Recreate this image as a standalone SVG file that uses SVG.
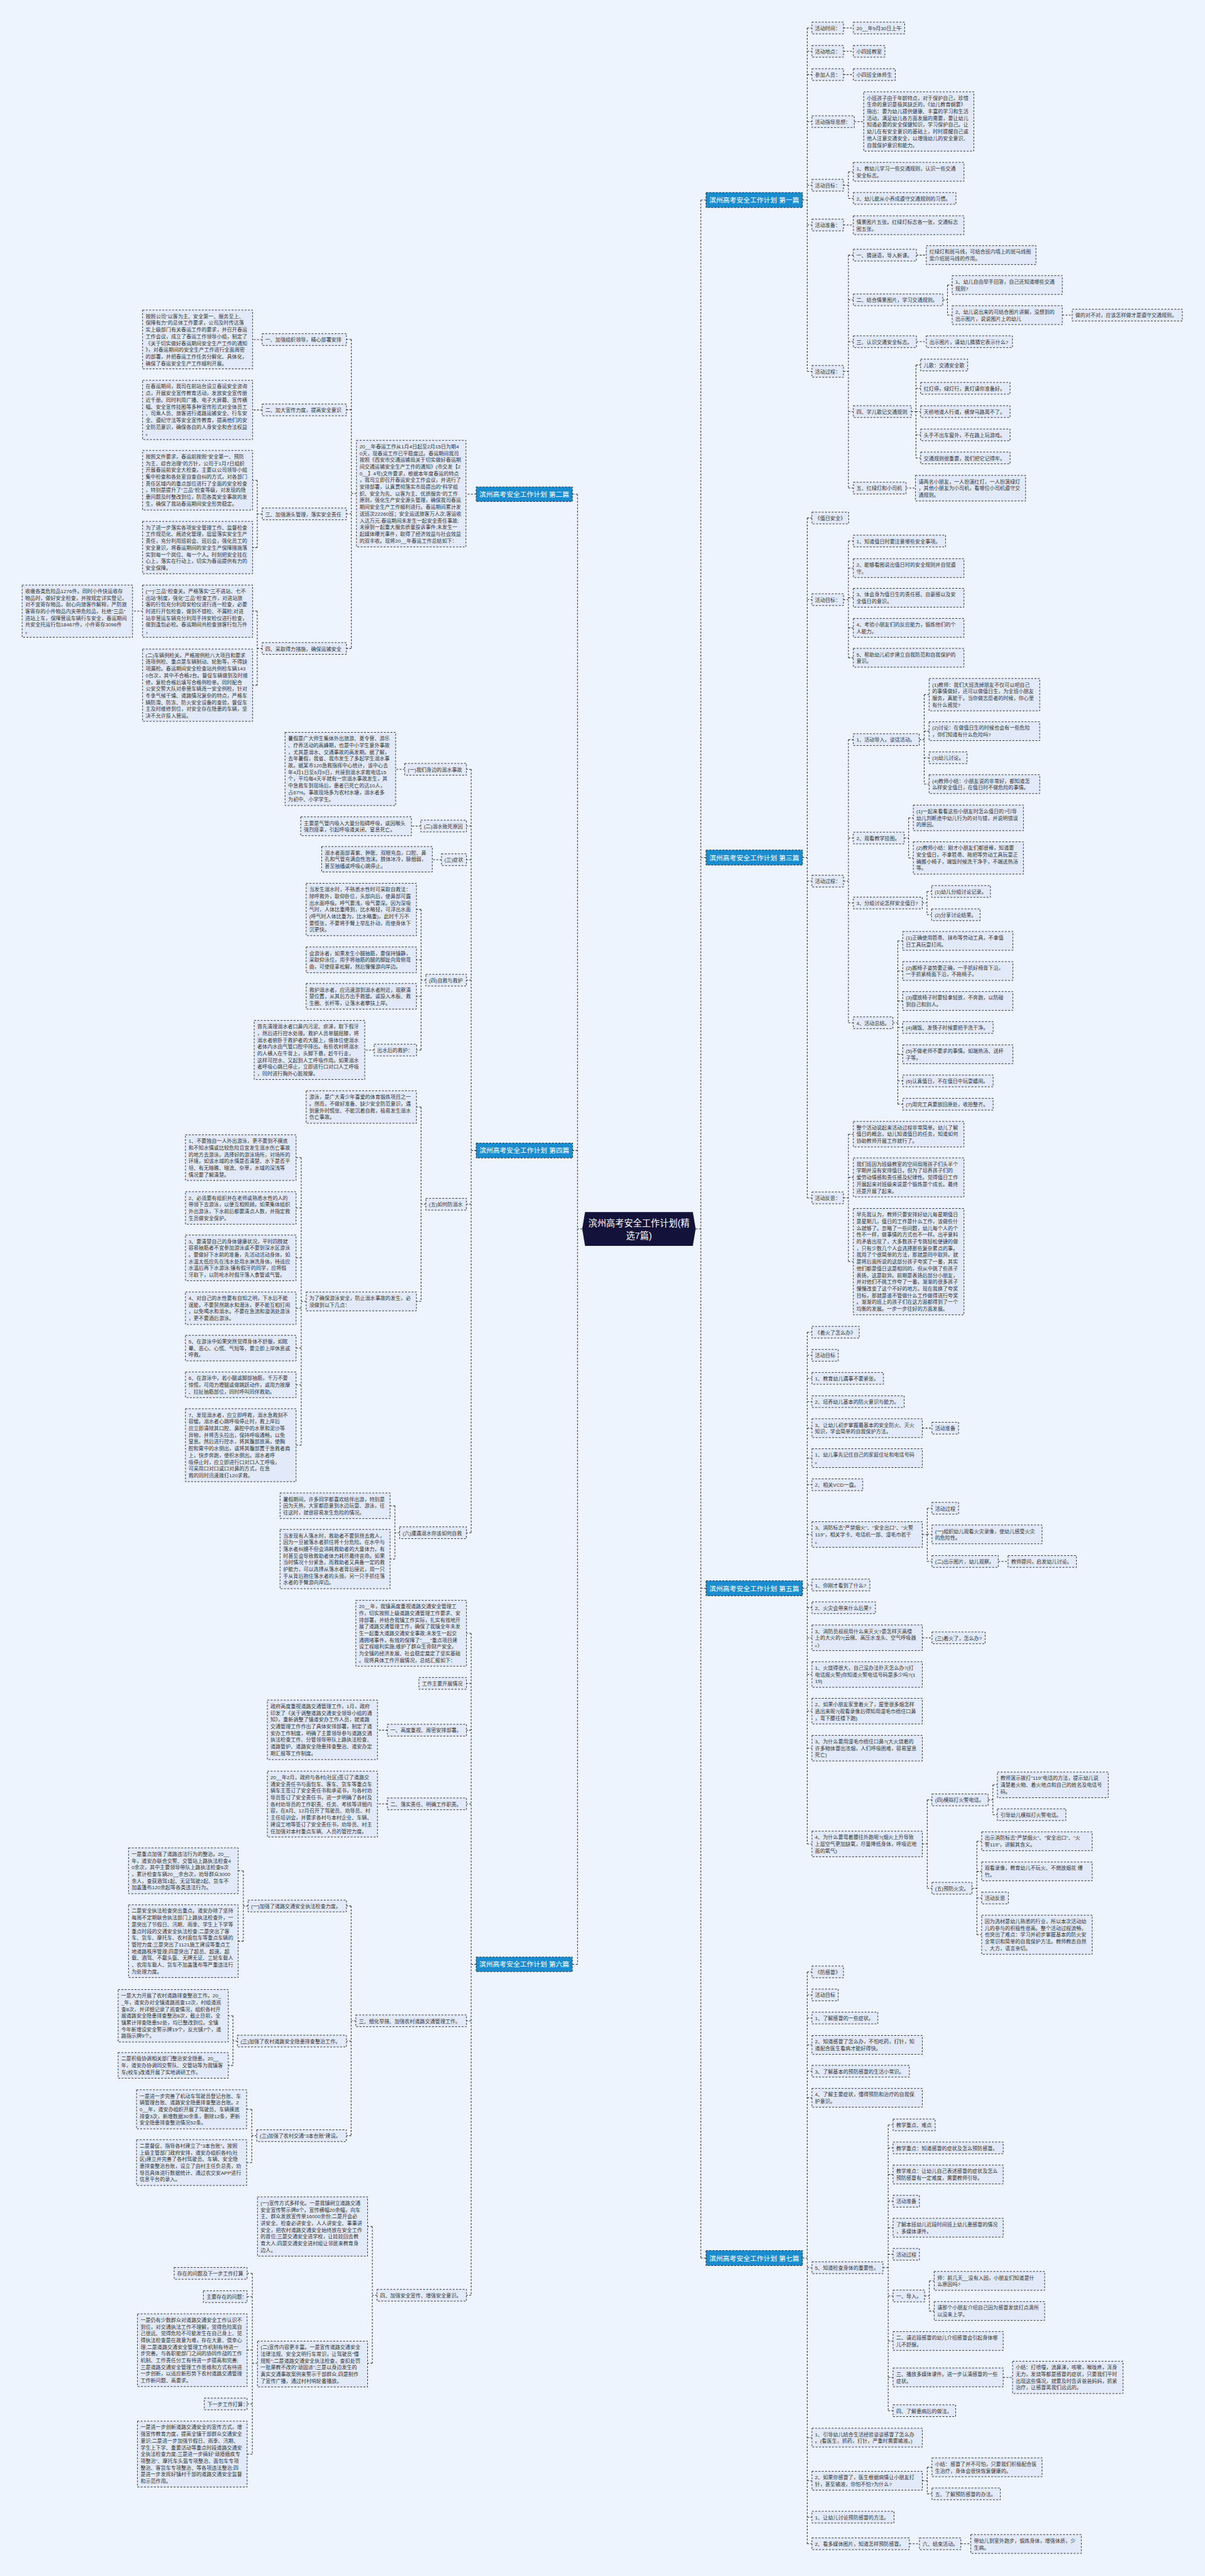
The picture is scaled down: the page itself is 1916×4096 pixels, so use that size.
<svg xmlns="http://www.w3.org/2000/svg" width="1916" height="4096" viewBox="0 0 1916 4096">
<style>
.n rect{fill:#e2eafa;stroke:#2e2e2e;stroke-width:1.3;stroke-dasharray:4 3}
.n text{font-family:"Liberation Sans","Noto Sans CJK SC",sans-serif;font-size:10.8px;fill:#333}
.t rect{fill:#1a8dd0;stroke:#1e2a3a;stroke-width:1.3;stroke-dasharray:4 3}
.t text{font-family:"Liberation Sans","Noto Sans CJK SC",sans-serif;font-size:14.4px;fill:#fff;text-anchor:middle}
.e path{fill:none;stroke:#2e2e2e;stroke-width:1.4;stroke-dasharray:4 3}
</style>
<rect x="0" y="0" width="1916" height="4096" fill="#eef4fe"/>
<g transform="scale(0.7484)">
<g id="edges" class="e">
<path d="M1478,2611 H1489 M1489,425 V4797.5 M1489,425 H1500 M1489,1822 H1500 M1489,3374.5 H1500 M1489,4797.5 H1500"/>
<path d="M1237,2611 H1227 M1227,1050 V4173.5 M1227,1050 H1216 M1227,2444.4 H1216 M1227,4173.5 H1216"/>
<path d="M1705,425 H1715 M1715,59.5 V789 M1715,59.5 H1725 M1715,109 H1725 M1715,158.5 H1725 M1715,258.5 H1725 M1715,393.5 H1725 M1715,478 H1725 M1715,789 H1725"/>
<path d="M1792,59.5 H1813 M1792,109 H1813 M1792,158.5 H1813 M1815,258.5 H1835 M1792,478 H1813"/>
<path d="M1792,393.5 H1802.5 M1802.5,365 V421.5 M1802.5,365 H1813 M1802.5,421.5 H1813"/>
<path d="M1792,789 H1802.5 M1802.5,542 V1037 M1802.5,542 H1813 M1802.5,637 H1813 M1802.5,726 H1813 M1802.5,874.5 H1813 M1802.5,1037 H1813"/>
<path d="M1947,542 H1968 M1947,726 H1968 M1925,1037 H1945 M2257,669.5 H2278"/>
<path d="M2003,637 H2013 M2013,605.5 V669.5 M2013,605.5 H2023 M2013,669.5 H2023"/>
<path d="M1936,874.5 H1946 M1946,775.5 V973 M1946,775.5 H1956 M1946,825 H1956 M1946,874.5 H1956 M1946,924 H1956 M1946,973 H1956"/>
<path d="M1705,1822 H1715 M1715,1100.5 V2545 M1715,1100.5 H1725 M1715,1274 H1725 M1715,1872 H1725 M1715,2545 H1725"/>
<path d="M1792,1274 H1802.5 M1802.5,1149.5 V1397.5 M1802.5,1149.5 H1813 M1802.5,1207 H1813 M1802.5,1270 H1813 M1802.5,1334 H1813 M1802.5,1397.5 H1813"/>
<path d="M1792,1872 H1802.5 M1802.5,1571.5 V2173 M1802.5,1571.5 H1813 M1802.5,1780.5 H1813 M1802.5,1918.5 H1813 M1802.5,2173 H1813"/>
<path d="M1953,1571.5 H1963.5 M1963.5,1475.8 V1666 M1963.5,1475.8 H1974 M1963.5,1553.5 H1974 M1963.5,1610 H1974 M1963.5,1666 H1974"/>
<path d="M1921,1780.5 H1930.5 M1930.5,1737.7 V1822.8 M1930.5,1737.7 H1940.4 M1930.5,1822.8 H1940.4"/>
<path d="M1959.5,1918.5 H1969.5 M1969.5,1894 V1943.5 M1969.5,1894 H1979.3 M1969.5,1943.5 H1979.3"/>
<path d="M1897,2173 H1907.5 M1907.5,1999 V2346 M1907.5,1999 H1918 M1907.5,2063 H1918 M1907.5,2126.7 H1918 M1907.5,2183 H1918 M1907.5,2240 H1918 M1907.5,2296.5 H1918 M1907.5,2346 H1918"/>
<path d="M1792,2545 H1802.5 M1802.5,2409.7 V2680.5 M1802.5,2409.7 H1813 M1802.5,2501.5 H1813 M1802.5,2680.5 H1813"/>
<path d="M1705,3374.5 H1715 M1715,2830.5 V3917.7 M1715,2830.5 H1725 M1715,2879.5 H1725 M1715,2928.5 H1725 M1715,2978 H1725 M1715,3034.3 H1725 M1715,3098 H1725 M1715,3154.5 H1725 M1715,3260.2 H1725 M1715,3367.5 H1725 M1715,3415.8 H1725 M1715,3479.7 H1725 M1715,3557.7 H1725 M1715,3635.5 H1725 M1715,3714.2 H1725 M1715,3917.7 H1725"/>
<path d="M1959.5,3034.3 H1980 M1959.5,3479.7 H1980 M2121,3317.5 H2141.7"/>
<path d="M1959.5,3260.2 H1970 M1970,3204.5 V3317.5 M1970,3204.5 H1980 M1970,3260 H1980 M1970,3317.5 H1980"/>
<path d="M1959.5,3917.7 H1970 M1970,3824 V4011.8 M1970,3824 H1980 M1970,4011.8 H1980"/>
<path d="M2099.4,3824 H2109.5 M2109.5,3792 V3855.5 M2109.5,3792 H2119 M2109.5,3855.5 H2119"/>
<path d="M2065,4011.8 H2075.5 M2075.5,3912 V4110.5 M2075.5,3912 H2085.7 M2075.5,3976 H2085.7 M2075.5,4032.5 H2085.7 M2075.5,4110.5 H2085.7"/>
<path d="M1705,4797.5 H1715 M1715,4189.5 V5404.5 M1715,4189.5 H1725 M1715,4238.5 H1725 M1715,4287.5 H1725 M1715,4344.6 H1725 M1715,4400.5 H1725 M1715,4457 H1725 M1715,4818 H1725 M1715,5179 H1725 M1715,5270.6 H1725 M1715,5348 H1725 M1715,5404.5 H1725"/>
<path d="M1876,4818 H1887 M1887,4514.5 V5121.8 M1887,4514.5 H1897.4 M1887,4563.5 H1897.4 M1887,4620 H1897.4 M1887,4676.7 H1897.4 M1887,4733 H1897.4 M1887,4789.5 H1897.4 M1887,4878 H1897.4 M1887,4973.7 H1897.4 M1887,5051 H1897.4 M1887,5121.8 H1897.4"/>
<path d="M1964.3,4878 H1974.5 M1974.5,4846 V4910 M1974.5,4846 H1984.7 M1974.5,4910 H1984.7 M2131.4,5051 H2151.3"/>
<path d="M1959.5,5270.6 H1970 M1970,5242 V5298.5 M1970,5242 H1980 M1970,5298.5 H1980 M1932.2,5404.5 H1953.4 M2041.4,5404.5 H2062.5"/>
<path d="M1011.6,1050 H990 M757.3,1048.7 H746.5 M746.5,721.3 V1377.8 M746.5,721.3 H735.8 M746.5,870.7 H735.8 M746.5,1091.7 H735.8 M746.5,1377.8 H735.8"/>
<path d="M557,721.5 H536.7 M557,871 H536.7 M302.9,1298.5 H281.6"/>
<path d="M557,1092 H546.5 M546.5,1020.4 V1163.3 M546.5,1020.4 H536.7 M546.5,1163.3 H536.7"/>
<path d="M557,1377.8 H546.5 M546.5,1298.5 V1455.7 M546.5,1298.5 H536.7 M546.5,1455.7 H536.7"/>
<path d="M1011.6,2444.4 H1001 M1001,1634.5 V3256.5 M1001,1634.5 H991 M1001,1755 H991 M1001,1826.5 H991 M1001,2082.5 H991 M1001,2558.5 H991 M1001,3256.5 H991"/>
<path d="M860,1634.5 H840.6 M894,1755 H874 M938,1826.5 H918.4 M795,2231 H775"/>
<path d="M904.7,2082.5 H894.6 M894.6,1932.3 V2231 M894.6,1932.3 H884.7 M894.6,2039.3 H884.7 M894.6,2116.8 H884.7 M894.6,2231 H884.7"/>
<path d="M904.7,2558.5 H894.6 M894.6,2352 V2765 M894.6,2352 H884.7 M894.6,2765 H884.7"/>
<path d="M650.5,2765 H640 M640,2459.5 V3070.5 M640,2459.5 H629 M640,2566.5 H629 M640,2672.5 H629 M640,2779.5 H629 M640,2864.2 H629 M640,2942.2 H629 M640,3070.5 H629"/>
<path d="M849,3256.5 H839 M839,3199.2 V3312.4 M839,3199.2 H828.7 M839,3312.4 H828.7"/>
<path d="M1011.6,4173.5 H1001 M1001,3470 V4876.5 M1001,3470 H991 M1001,3576.5 H991 M1001,3676 H991 M1001,3832.5 H991 M1001,4293.5 H991 M1001,4876.5 H991"/>
<path d="M823,3676 H802 M823,3832.5 H802"/>
<path d="M756,4293.5 H746 M746,4049.5 V4537.5 M746,4049.5 H736 M746,4336.5 H736 M746,4537.5 H736"/>
<path d="M527,4049.5 H517 M517,3974.7 V4124.3 M517,3974.7 H506 M517,4124.3 H506"/>
<path d="M504.5,4336.5 H495 M495,4282.8 V4388.2 M495,4282.8 H485 M495,4388.2 H485"/>
<path d="M545.5,4537.5 H535 M535,4481.5 V4594.7 M535,4481.5 H524 M535,4594.7 H524"/>
<path d="M801,4876.5 H791 M791,4730.5 V5021 M791,4730.5 H781 M791,5021 H781"/>
<path d="M547,5021 H536 M536,4830 V5214 M536,4830 H525 M536,4879.5 H525 M536,4993 H525 M536,5107.5 H525 M536,5214 H525"/>
</g>

<g id="center">
<polygon points="1243,2575 1472,2575 1478,2611 1472,2647 1243,2647 1237,2611" fill="#13123a"/>
<text x="1357.5" y="2605" font-family="Liberation Sans,Noto Sans CJK SC,sans-serif" font-size="19" fill="#fff" text-anchor="middle">滨州高考安全工作计划(精<tspan x="1357.5" dy="27">选7篇)</tspan></text>
</g>

<g id="p1" class="t"><rect x="1500" y="409" width="205" height="32"/><text x="1602.5" y="430.5">滨州高考安全工作计划 第一篇</text></g>
<g id="p3" class="t"><rect x="1500" y="1806" width="205" height="32"/><text x="1602.5" y="1827.5">滨州高考安全工作计划 第三篇</text></g>
<g id="p5" class="t"><rect x="1500" y="3358.5" width="205" height="32"/><text x="1602.5" y="3380">滨州高考安全工作计划 第五篇</text></g>
<g id="p7" class="t"><rect x="1500" y="4781.5" width="205" height="32"/><text x="1602.5" y="4803">滨州高考安全工作计划 第七篇</text></g>
<g id="p2" class="t"><rect x="1011.6" y="1034.5" width="204.5" height="31"/><text x="1113.8" y="1055">滨州高考安全工作计划 第二篇</text></g>
<g id="p4" class="t"><rect x="1011.6" y="2428.6" width="205" height="31.6"/><text x="1114.1" y="2449.4">滨州高考安全工作计划 第四篇</text></g>
<g id="p6" class="t"><rect x="1011.6" y="4158" width="204.4" height="31"/><text x="1113.8" y="4178.5">滨州高考安全工作计划 第六篇</text></g>

<g id="a1" class="n"><rect x="1725" y="47" width="67" height="25"/><text x="1731.5" y="64">活动时间：</text></g>
<g id="a1c" class="n"><rect x="1813" y="47" width="109" height="25"/><text x="1819.5" y="64">20__年9月30日上午</text></g>
<g id="a2" class="n"><rect x="1725" y="96.5" width="67" height="25"/><text x="1731.5" y="113.5">活动地点：</text></g>
<g id="a2c" class="n"><rect x="1813" y="96.5" width="67" height="25"/><text x="1819.5" y="113.5">小四班教室</text></g>
<g id="a3" class="n"><rect x="1725" y="146" width="67" height="25"/><text x="1731.5" y="163">参加人员：</text></g>
<g id="a3c" class="n"><rect x="1813" y="146" width="89" height="25"/><text x="1819.5" y="163">小四班全体师生</text></g>
<g id="a4" class="n"><rect x="1725" y="246" width="90" height="25"/><text x="1731.5" y="263">活动指导思想：</text></g>
<g id="a4c" class="n"><rect x="1835" y="195" width="234" height="126"/><text x="1841.5" y="212">小班孩子由于年龄特点，对于保护自己，珍惜<tspan x="1841.5" dy="14.3">生命的意识是极其缺乏的，《幼儿教育纲要》</tspan><tspan x="1841.5" dy="14.3">指出：要为幼儿提供健康、丰富的学习和生活</tspan><tspan x="1841.5" dy="14.3">活动，满足幼儿各方面发展的需要，要让幼儿</tspan><tspan x="1841.5" dy="14.3">知道必要的安全保健知识，学习保护自己。让</tspan><tspan x="1841.5" dy="14.3">幼儿在有安全意识的基础上，时时提醒自己或</tspan><tspan x="1841.5" dy="14.3">他人注意交通安全，以增强幼儿的安全意识、</tspan><tspan x="1841.5" dy="14.3">自我保护意识和能力。</tspan></text></g>
<g id="a5" class="n"><rect x="1725" y="381" width="67" height="25"/><text x="1731.5" y="398">活动目标：</text></g>
<g id="a5c1" class="n"><rect x="1813" y="345" width="235" height="40"/><text x="1819.5" y="362">1、教幼儿学习一些交通规则，认识一些交通<tspan x="1819.5" dy="14.3">安全标志。</tspan></text></g>
<g id="a5c2" class="n"><rect x="1813" y="409" width="218" height="25"/><text x="1819.5" y="426">2、幼儿能从小养成遵守交通规则的习惯。</text></g>
<g id="a6" class="n"><rect x="1725" y="465.5" width="67" height="25"/><text x="1731.5" y="482.5">活动准备：</text></g>
<g id="a6c" class="n"><rect x="1813" y="458.5" width="235" height="40"/><text x="1819.5" y="475.5">情景图片五张。红绿灯标志各一张，交通标志<tspan x="1819.5" dy="14.3">图五张。</tspan></text></g>
<g id="a7" class="n"><rect x="1725" y="776.5" width="67" height="25"/><text x="1731.5" y="793.5">活动过程：</text></g>
<g id="b1" class="n"><rect x="1813" y="529.5" width="134" height="25"/><text x="1819.5" y="546.5">一、猜谜语，导入新课。</text></g>
<g id="b1c" class="n"><rect x="1968" y="522" width="233" height="40"/><text x="1974.5" y="539">红绿灯和斑马线，可结合班内墙上的斑马线图<tspan x="1974.5" dy="14.3">案介绍斑马线的作用。</tspan></text></g>
<g id="b2" class="n"><rect x="1813" y="624.5" width="190" height="25"/><text x="1819.5" y="641.5">二、结合情景图片，学习交通规则。</text></g>
<g id="b2c1" class="n"><rect x="2023" y="585.5" width="234" height="40"/><text x="2029.5" y="602.5">1、幼儿自由举手回答，自己还知道哪些交通<tspan x="2029.5" dy="14.3">规则?</tspan></text></g>
<g id="b2c2" class="n"><rect x="2023" y="649.5" width="234" height="40"/><text x="2029.5" y="666.5">2、幼儿说出来的可结合图片讲解，没想到的<tspan x="2029.5" dy="14.3">出示图片，说说图片上的幼儿</tspan></text></g>
<g id="b2c2c" class="n"><rect x="2278" y="657" width="234" height="25"/><text x="2284.5" y="674">做的对不对，应该怎样做才是遵守交通规则。</text></g>
<g id="b3" class="n"><rect x="1813" y="713.5" width="134" height="25"/><text x="1819.5" y="730.5">三、认识交通安全标志。</text></g>
<g id="b3c" class="n"><rect x="1968" y="713.5" width="183" height="25"/><text x="1974.5" y="730.5">出示图片，请幼儿猜猜它表示什么?</text></g>
<g id="b4" class="n"><rect x="1813" y="862" width="123" height="25"/><text x="1819.5" y="879">四、学儿歌记交通规则</text></g>
<g id="b4c1" class="n"><rect x="1956" y="763" width="100" height="25"/><text x="1962.5" y="780">儿歌：交通安全歌</text></g>
<g id="b4c2" class="n"><rect x="1956" y="812.5" width="190" height="25"/><text x="1962.5" y="829.5">红灯停，绿灯行，黄灯请你准备好。</text></g>
<g id="b4c3" class="n"><rect x="1956" y="862" width="190" height="25"/><text x="1962.5" y="879">天桥地道人行道，横穿马路离不了。</text></g>
<g id="b4c4" class="n"><rect x="1956" y="911.5" width="190" height="25"/><text x="1962.5" y="928.5">头手不出车窗外，不在路上玩游戏。</text></g>
<g id="b4c5" class="n"><rect x="1956" y="960.5" width="190" height="25"/><text x="1962.5" y="977.5">交通规则很重要，我们把它记得牢。</text></g>
<g id="b5" class="n"><rect x="1813" y="1024.5" width="112" height="25"/><text x="1819.5" y="1041.5">五、红绿灯和小司机</text></g>
<g id="b5c" class="n"><rect x="1945" y="1010" width="234" height="54.4"/><text x="1951.5" y="1027">请两名小朋友，一人扮演红灯，一人扮演绿灯<tspan x="1951.5" dy="14.3">，其他小朋友为小司机，看哪位小司机遵守交</tspan><tspan x="1951.5" dy="14.3">通规则。</tspan></text></g>

<g id="c1" class="n"><rect x="1725" y="1088" width="78" height="25"/><text x="1731.5" y="1105">《值日安全》</text></g>
<g id="c2" class="n"><rect x="1725" y="1261.5" width="67" height="25"/><text x="1731.5" y="1278.5">活动目标：</text></g>
<g id="c2a" class="n"><rect x="1813" y="1137" width="196" height="25"/><text x="1819.5" y="1154">1、知道值日时要注意哪些安全事项。</text></g>
<g id="c2b" class="n"><rect x="1813" y="1187" width="235" height="40"/><text x="1819.5" y="1204">2、能够看图说出值日时的安全规则并自觉遵<tspan x="1819.5" dy="14.3">守。</tspan></text></g>
<g id="c2c" class="n"><rect x="1813" y="1250" width="235" height="40"/><text x="1819.5" y="1267">3、体会身为值日生的责任感、自豪感以及安<tspan x="1819.5" dy="14.3">全值日的意识。</tspan></text></g>
<g id="c2d" class="n"><rect x="1813" y="1314" width="235" height="40"/><text x="1819.5" y="1331">4、考验小朋友们的反应能力，锻炼他们的个<tspan x="1819.5" dy="14.3">人能力。</tspan></text></g>
<g id="c2e" class="n"><rect x="1813" y="1377.5" width="235" height="40"/><text x="1819.5" y="1394.5">5、帮助幼儿初步建立自我防范和自我保护的<tspan x="1819.5" dy="14.3">意识。</tspan></text></g>
<g id="c3" class="n"><rect x="1725" y="1859.5" width="67" height="25"/><text x="1731.5" y="1876.5">活动过程：</text></g>
<g id="d1" class="n"><rect x="1813" y="1559" width="140" height="25"/><text x="1819.5" y="1576">1、活动导入，谈话活动。</text></g>
<g id="d1a" class="n"><rect x="1974" y="1441.5" width="235" height="68.7"/><text x="1980.5" y="1458.5">(1)教师：我们大班洗掉朋友不仅可以吧自己<tspan x="1980.5" dy="14.3">的事情做好，还可以做值日生，为全班小朋友</tspan><tspan x="1980.5" dy="14.3">服务，真能干。当你做志愿者的时候，你心里</tspan><tspan x="1980.5" dy="14.3">有什么感觉?</tspan></text></g>
<g id="d1b" class="n"><rect x="1974" y="1533.5" width="235" height="40"/><text x="1980.5" y="1550.5">(2)讨论：在做值日生的时候也会有一些危险<tspan x="1980.5" dy="14.3">，你们知道有什么危险吗?</tspan></text></g>
<g id="d1c" class="n"><rect x="1974" y="1597.5" width="80.5" height="25"/><text x="1980.5" y="1614.5">(3)幼儿讨论。</text></g>
<g id="d1d" class="n"><rect x="1974" y="1646" width="235" height="40"/><text x="1980.5" y="1663">(4)教师小结：小朋友说的非常好，都知道怎<tspan x="1980.5" dy="14.3">么样安全值日，在值日时不做危险的事情。</tspan></text></g>
<g id="d2" class="n"><rect x="1813" y="1768" width="108" height="25"/><text x="1819.5" y="1785">2、观看教学挂图。</text></g>
<g id="d2a" class="n"><rect x="1940.4" y="1710.5" width="234" height="54.4"/><text x="1946.9" y="1727.5">(1)一起来看看这些小朋友时怎么值日的?引导<tspan x="1946.9" dy="14.3">幼儿判断途中幼儿行为的对与错，并说明错误</tspan><tspan x="1946.9" dy="14.3">的原因。</tspan></text></g>
<g id="d2b" class="n"><rect x="1940.4" y="1788.5" width="234" height="68.7"/><text x="1946.9" y="1805.5">(2)教师小结：刚才小朋友们都很棒，知道要<tspan x="1946.9" dy="14.3">安全值日，不拿笤帚、拖把等劳动工具玩耍正</tspan><tspan x="1946.9" dy="14.3">确搬小椅子，端饭时候洗干净手，不端送热汤</tspan><tspan x="1946.9" dy="14.3">等。</tspan></text></g>
<g id="d3" class="n"><rect x="1813" y="1906" width="146.5" height="25"/><text x="1819.5" y="1923">3、分组讨论怎样安全值日?</text></g>
<g id="d3a" class="n"><rect x="1979.3" y="1881.5" width="125" height="25"/><text x="1985.8" y="1898.5">(1)幼儿分组讨论记录。</text></g>
<g id="d3b" class="n"><rect x="1979.3" y="1931" width="103" height="25"/><text x="1985.8" y="1948">(2)分享讨论结果。</text></g>
<g id="d4" class="n"><rect x="1813" y="2160.5" width="84" height="25"/><text x="1819.5" y="2177.5">4、活动总结。</text></g>
<g id="d4a" class="n"><rect x="1918" y="1979" width="234" height="40"/><text x="1924.5" y="1996">(1)正确使用笤帚、抹布等劳动工具，不拿值<tspan x="1924.5" dy="14.3">日工具玩耍打闹。</tspan></text></g>
<g id="d4b" class="n"><rect x="1918" y="2043" width="234" height="40"/><text x="1924.5" y="2060">(2)搬椅子姿势要正确，一手抓好椅背下沿，<tspan x="1924.5" dy="14.3">一手抓紧椅面下沿，不拖椅子。</tspan></text></g>
<g id="d4c" class="n"><rect x="1918" y="2106.7" width="234" height="40"/><text x="1924.5" y="2123.7">(3)摆放椅子时要轻拿轻放，不奔跑，以防碰<tspan x="1924.5" dy="14.3">到自己和别人。</tspan></text></g>
<g id="d4d" class="n"><rect x="1918" y="2170.5" width="192" height="25"/><text x="1924.5" y="2187.5">(4)端饭、发筷子时候要把手洗干净。</text></g>
<g id="d4e" class="n"><rect x="1918" y="2220" width="234" height="40"/><text x="1924.5" y="2237">(5)不做老师不要求的事情。如端热汤、送杯<tspan x="1924.5" dy="14.3">子等。</tspan></text></g>
<g id="d4f" class="n"><rect x="1918" y="2284" width="192" height="25"/><text x="1924.5" y="2301">(6)认真值日，不在值日中玩耍嬉闹。</text></g>
<g id="d4g" class="n"><rect x="1918" y="2333.5" width="192" height="25"/><text x="1924.5" y="2350.5">(7)用完工具要放回原处，收拾整齐。</text></g>
<g id="c4" class="n"><rect x="1725" y="2532.5" width="67" height="25"/><text x="1731.5" y="2549.5">活动反思：</text></g>
<g id="e1" class="n"><rect x="1813" y="2382.5" width="235" height="54.4"/><text x="1819.5" y="2399.5">整个活动说起来活动过程非常简单。幼儿了解<tspan x="1819.5" dy="14.3">值日的概念，幼儿知道值日的任务，知道如何</tspan><tspan x="1819.5" dy="14.3">协助教师开展工作就行了。</tspan></text></g>
<g id="e2" class="n"><rect x="1813" y="2460" width="235" height="83"/><text x="1819.5" y="2477">我们班因为班级教室的空间局限孩子们头半个<tspan x="1819.5" dy="14.3">学期并没有安排值日。但为了培养孩子们的</tspan><tspan x="1819.5" dy="14.3">爱劳动情感和责任感及纪律性。觉得值日工作</tspan><tspan x="1819.5" dy="14.3">开展起来对班级来说是个锻炼是个成长。最终</tspan><tspan x="1819.5" dy="14.3">还是开展了起来。</tspan></text></g>
<g id="e3" class="n"><rect x="1813" y="2567.5" width="235" height="226"/><text x="1819.5" y="2584.5">早先我认为，教师只要安排好幼儿每星期值日<tspan x="1819.5" dy="14.3">是星期几，值日的工作是什么工作，该做些什</tspan><tspan x="1819.5" dy="14.3">么就够了。忽略了一些问题，幼儿每个人的个</tspan><tspan x="1819.5" dy="14.3">性不一样，做事情的方式也不一样。出乎意料</tspan><tspan x="1819.5" dy="14.3">的矛盾出现了，大多数孩子专挑轻松便捷的做</tspan><tspan x="1819.5" dy="14.3">，只有少数几个人会选择那些复杂累点的事。</tspan><tspan x="1819.5" dy="14.3">我用了个很简单的方法，那就是同中取异。就</tspan><tspan x="1819.5" dy="14.3">是将后面所说的这部分孩子夸奖了一番，其实</tspan><tspan x="1819.5" dy="14.3">他们都是值日这是相同的，但从中挑了些孩子</tspan><tspan x="1819.5" dy="14.3">表扬，这是取异。前期是表扬后部分小朋友，</tspan><tspan x="1819.5" dy="14.3">并对他们不挑工作夸了一番。渐渐的很多孩子</tspan><tspan x="1819.5" dy="14.3">慢慢改变了这个不好的地方。现在我换了夸奖</tspan><tspan x="1819.5" dy="14.3">目标，那就是谁不管做什么工作做得进行夸奖</tspan><tspan x="1819.5" dy="14.3">。渐渐的班上的孩子们在这方面都得到了一个</tspan><tspan x="1819.5" dy="14.3">均衡的发展。一步一步往好的方面发展。</tspan></text></g>

<g id="f1" class="n"><rect x="1725" y="2818" width="100.5" height="25"/><text x="1731.5" y="2835">《着火了怎么办》</text></g>
<g id="f2" class="n"><rect x="1725" y="2867" width="56" height="25"/><text x="1731.5" y="2884">活动目标</text></g>
<g id="f3" class="n"><rect x="1725" y="2916" width="152" height="25"/><text x="1731.5" y="2933">1、教育幼儿遇事不要紧张。</text></g>
<g id="f4" class="n"><rect x="1725" y="2965.5" width="196" height="25"/><text x="1731.5" y="2982.5">2、培养幼儿基本的防火意识与能力。</text></g>
<g id="f5" class="n"><rect x="1725" y="3014.3" width="234.5" height="40"/><text x="1731.5" y="3031.3">3、让幼儿初步掌握最基本的安全防火、灭火<tspan x="1731.5" dy="14.3">知识，学会简单的自我保护方法。</tspan></text></g>
<g id="f5c" class="n"><rect x="1980" y="3021.8" width="56.6" height="25"/><text x="1986.5" y="3038.8">活动准备</text></g>
<g id="f6" class="n"><rect x="1725" y="3078" width="234.5" height="40"/><text x="1731.5" y="3095">1、幼儿事先记住自己的家庭住址和电话号码<tspan x="1731.5" dy="14.3">。</tspan></text></g>
<g id="f7" class="n"><rect x="1725" y="3142" width="108" height="25"/><text x="1731.5" y="3159">2、相关VCD一盘。</text></g>
<g id="f8" class="n"><rect x="1725" y="3233" width="234.5" height="54.4"/><text x="1731.5" y="3250">3、消防标志"严禁烟火"、"安全出口"、"火警<tspan x="1731.5" dy="14.3">119"，相关字卡、电话机一部、湿毛巾若干</tspan><tspan x="1731.5" dy="14.3">。</tspan></text></g>
<g id="f8a" class="n"><rect x="1980" y="3192" width="56.6" height="25"/><text x="1986.5" y="3209">活动过程</text></g>
<g id="f8b" class="n"><rect x="1980" y="3240" width="234" height="40"/><text x="1986.5" y="3257">(一)组织幼儿观看火灾录像，使幼儿感受火灾<tspan x="1986.5" dy="14.3">的危险性。</tspan></text></g>
<g id="f8c" class="n"><rect x="1980" y="3305" width="141" height="25"/><text x="1986.5" y="3322">(二)出示图片，幼儿观察。</text></g>
<g id="f8d" class="n"><rect x="2141.7" y="3305" width="145.3" height="25"/><text x="2148.2" y="3322">教师提问，启发幼儿讨论。</text></g>
<g id="f9" class="n"><rect x="1725" y="3355" width="123" height="25"/><text x="1731.5" y="3372">1、你刚才看到了什么?</text></g>
<g id="f10" class="n"><rect x="1725" y="3403.3" width="135" height="25"/><text x="1731.5" y="3420.3">2、火灾会带来什么后果?</text></g>
<g id="f11" class="n"><rect x="1725" y="3452.5" width="234.5" height="54.4"/><text x="1731.5" y="3469.5">3、消防员叔叔用什么来灭火?是怎样灭高楼<tspan x="1731.5" dy="14.3">上的大火的?(云梯、高压水龙头、空气呼吸器</tspan><tspan x="1731.5" dy="14.3">。)</tspan></text></g>
<g id="f11c" class="n"><rect x="1980" y="3467.3" width="113" height="25"/><text x="1986.5" y="3484.3">(三)着火了，怎么办?</text></g>
<g id="f12" class="n"><rect x="1725" y="3530.5" width="234.5" height="54.4"/><text x="1731.5" y="3547.5">1、火烧得很大，自己没办法扑灭怎么办?(打<tspan x="1731.5" dy="14.3">电话报火警)你知道火警电话号码是多少吗?(1</tspan><tspan x="1731.5" dy="14.3">19)</tspan></text></g>
<g id="f13" class="n"><rect x="1725" y="3608.3" width="234.5" height="54.4"/><text x="1731.5" y="3625.3">2、如果小朋友家里着火了，屋里很多烟怎样<tspan x="1731.5" dy="14.3">逃出来呢?(观看录像后得知用湿毛巾捂住口鼻</tspan><tspan x="1731.5" dy="14.3">，弯下腰往楼下跑)</tspan></text></g>
<g id="f14" class="n"><rect x="1725" y="3687" width="234.5" height="54.4"/><text x="1731.5" y="3704">3、为什么要用湿毛巾捂住口鼻?(大火烧着的<tspan x="1731.5" dy="14.3">许多物体冒出浓烟，人们呼吸困难，容易窒息</tspan><tspan x="1731.5" dy="14.3">死亡)</tspan></text></g>
<g id="f15" class="n"><rect x="1725" y="3890.5" width="234.5" height="54.4"/><text x="1731.5" y="3907.5">4、为什么要弯着腰往外跑呢?(烟火上升导致<tspan x="1731.5" dy="14.3">上层空气更加缺氧，尽量降低身体，呼吸近地</tspan><tspan x="1731.5" dy="14.3">面的氧气)</tspan></text></g>
<g id="g1" class="n"><rect x="1980" y="3811.5" width="119.4" height="25"/><text x="1986.5" y="3828.5">(四)模拟打火警电话。</text></g>
<g id="g1a" class="n"><rect x="2119" y="3765" width="235.6" height="54.4"/><text x="2125.5" y="3782">教师演示拨打"119"电话的方法，提示幼儿说<tspan x="2125.5" dy="14.3">清楚着火物、着火地点和自己的姓名及电话号</tspan><tspan x="2125.5" dy="14.3">码。</tspan></text></g>
<g id="g1b" class="n"><rect x="2119" y="3843" width="145.5" height="25"/><text x="2125.5" y="3860">引导幼儿模拟打火警电话。</text></g>
<g id="g2" class="n"><rect x="1980" y="3999.3" width="85" height="25"/><text x="1986.5" y="4016.3">(五)预防火灾。</text></g>
<g id="g2a" class="n"><rect x="2085.7" y="3892" width="234.8" height="40"/><text x="2092.2" y="3909">出示消防标志"严禁烟火"、"安全出口"、"火<tspan x="2092.2" dy="14.3">警119"，讲解其含义。</tspan></text></g>
<g id="g2b" class="n"><rect x="2085.7" y="3956" width="234.8" height="40"/><text x="2092.2" y="3973">观看录像，教育幼儿不玩火、不燃放烟花 爆<tspan x="2092.2" dy="14.3">竹。</tspan></text></g>
<g id="g2c" class="n"><rect x="2085.7" y="4020" width="56.7" height="25"/><text x="2092.2" y="4037">活动反思</text></g>
<g id="g2d" class="n"><rect x="2085.7" y="4069" width="234.8" height="83"/><text x="2092.2" y="4086">因为选材是幼儿熟悉的行业，所以本次活动幼<tspan x="2092.2" dy="14.3">儿的参与的积极性很高。整个活动过程流畅，</tspan><tspan x="2092.2" dy="14.3">也突出了难点：学习并初步掌握基本的防火安</tspan><tspan x="2092.2" dy="14.3">全常识和简单的自我保护方法。教师教态自然</tspan><tspan x="2092.2" dy="14.3">、大方，语言亲切。</tspan></text></g>

<g id="h1" class="n"><rect x="1725" y="4177" width="67" height="25"/><text x="1731.5" y="4194">《防感冒》</text></g>
<g id="h2" class="n"><rect x="1725" y="4226" width="56" height="25"/><text x="1731.5" y="4243">活动目标</text></g>
<g id="h3" class="n"><rect x="1725" y="4275" width="140" height="25"/><text x="1731.5" y="4292">1、了解感冒的一些症状。</text></g>
<g id="h4" class="n"><rect x="1725" y="4324.6" width="234.5" height="40"/><text x="1731.5" y="4341.6">2、知道感冒了怎么办，不怕吃药，打针，知<tspan x="1731.5" dy="14.3">道配合医生看病才能好得快。</tspan></text></g>
<g id="h5" class="n"><rect x="1725" y="4388" width="207" height="25"/><text x="1731.5" y="4405">3、了解基本的预防感冒的生活小常识。</text></g>
<g id="h6" class="n"><rect x="1725" y="4437" width="234.5" height="40"/><text x="1731.5" y="4454">4、了解主要症状，懂得预防和治疗的自我保<tspan x="1731.5" dy="14.3">护意识。</tspan></text></g>
<g id="h7" class="n"><rect x="1725" y="4805.5" width="151" height="25"/><text x="1731.5" y="4822.5">5、知道检查身体的重要性。</text></g>
<g id="i1" class="n"><rect x="1897.4" y="4502" width="89.4" height="25"/><text x="1903.9" y="4519">教学重点、难点</text></g>
<g id="i2" class="n"><rect x="1897.4" y="4551" width="234" height="25"/><text x="1903.9" y="4568">教学重点：知道感冒的症状及怎么预防感冒。</text></g>
<g id="i3" class="n"><rect x="1897.4" y="4600" width="234" height="40"/><text x="1903.9" y="4617">教学难点：让幼儿自己表述感冒的症状及怎么<tspan x="1903.9" dy="14.3">预防感冒有一定难度，需要教师引导。</tspan></text></g>
<g id="i4" class="n"><rect x="1897.4" y="4664.2" width="56" height="25"/><text x="1903.9" y="4681.2">活动准备</text></g>
<g id="i5" class="n"><rect x="1897.4" y="4713" width="234" height="40"/><text x="1903.9" y="4730">了解本班幼儿近段时间班上幼儿患感冒的情况<tspan x="1903.9" dy="14.3">，多媒体课件。</tspan></text></g>
<g id="i6" class="n"><rect x="1897.4" y="4777" width="56" height="25"/><text x="1903.9" y="4794">活动过程</text></g>
<g id="i7" class="n"><rect x="1897.4" y="4865.5" width="67" height="25"/><text x="1903.9" y="4882.5">一、导入。</text></g>
<g id="i7a" class="n"><rect x="1984.7" y="4826" width="234.8" height="40"/><text x="1991.2" y="4843">师：前几天__没有入园，小朋友们知道是什<tspan x="1991.2" dy="14.3">么原因吗?</tspan></text></g>
<g id="i7b" class="n"><rect x="1984.7" y="4890" width="234.8" height="40"/><text x="1991.2" y="4907">请那个小朋友介绍自己因为感冒发烧打点滴所<tspan x="1991.2" dy="14.3">以没来上学。</tspan></text></g>
<g id="i8" class="n"><rect x="1897.4" y="4953.7" width="234" height="40"/><text x="1903.9" y="4970.7">二、请近段感冒的幼儿介绍感冒会引起身体哪<tspan x="1903.9" dy="14.3">儿不舒服。</tspan></text></g>
<g id="i9" class="n"><rect x="1897.4" y="5031" width="234" height="40"/><text x="1903.9" y="5048">三、播放多媒体课件。进一步认清感冒的一些<tspan x="1903.9" dy="14.3">症状。</tspan></text></g>
<g id="i9c" class="n"><rect x="2151.3" y="5016.7" width="234.7" height="68.7"/><text x="2157.8" y="5033.7">小结：打喷嚏，流鼻涕，咳嗽，喉咙疼，浑身<tspan x="2157.8" dy="14.3">无力，发烧等都是感冒的症状，只要我们平时</tspan><tspan x="2157.8" dy="14.3">出现这些情况，就要及时告诉爸爸妈妈，抓紧</tspan><tspan x="2157.8" dy="14.3">治疗，让感冒离我们远远的。</tspan></text></g>
<g id="i10" class="n"><rect x="1897.4" y="5109.3" width="133" height="25"/><text x="1903.9" y="5126.3">四、了解患病后的做法。</text></g>
<g id="h8" class="n"><rect x="1725" y="5159" width="234.5" height="40"/><text x="1731.5" y="5176">1、引导幼儿结合生活经验谈谈感冒了怎么办<tspan x="1731.5" dy="14.3">。(看医生，抓药，打针，严重时需要输液。)</tspan></text></g>
<g id="h9" class="n"><rect x="1725" y="5250.6" width="234.5" height="40"/><text x="1731.5" y="5267.6">2、如果你感冒了，医生根据病情让小朋友打<tspan x="1731.5" dy="14.3">针，甚至输液，你怕不怕?为什么?</tspan></text></g>
<g id="j1" class="n"><rect x="1980" y="5222" width="234" height="40"/><text x="1986.5" y="5239">小结：感冒了并不可怕，只要我们积极配合医<tspan x="1986.5" dy="14.3">生治疗，身体会很快恢复健康的。</tspan></text></g>
<g id="j2" class="n"><rect x="1980" y="5286" width="145.3" height="25"/><text x="1986.5" y="5303">五、了解预防感冒的办法。</text></g>
<g id="h10" class="n"><rect x="1725" y="5335.5" width="174.4" height="25"/><text x="1731.5" y="5352.5">1、让幼儿讨论预防感冒的方法。</text></g>
<g id="h11" class="n"><rect x="1725" y="5392" width="207" height="25"/><text x="1731.5" y="5409">2、看多媒体图片，知道怎样预防感冒。</text></g>
<g id="k1" class="n"><rect x="1953.4" y="5392" width="88" height="25"/><text x="1959.9" y="5409">六、结束活动。</text></g>
<g id="k2" class="n"><rect x="2062.5" y="5385" width="234.8" height="40"/><text x="2069" y="5402">带幼儿到室外跑步，锻炼身体，增强体质，少<tspan x="2069" dy="14.3">生病。</tspan></text></g>

<g id="q0" class="n"><rect x="757.3" y="935.5" width="232.7" height="226.5"/><text x="763.8" y="952.5">20__年春运工作从1月4日起至2月15日为期4<tspan x="763.8" dy="14.3">0天，现春运工作已平稳度过。春运期间我司</tspan><tspan x="763.8" dy="14.3">按照《西安市交通运输局关于切实做好春运期</tspan><tspan x="763.8" dy="14.3">间交通运输安全生产工作的通知》(市交发【2</tspan><tspan x="763.8" dy="14.3">0__】4号)文件要求，根据本年度春运的特点</tspan><tspan x="763.8" dy="14.3">，我司立即召开春运安全工作会议，并进行了</tspan><tspan x="763.8" dy="14.3">安排部署，认真贯彻落实市局提出的"科学组</tspan><tspan x="763.8" dy="14.3">织、安全为先、以客为主、优质服务"的工作</tspan><tspan x="763.8" dy="14.3">原则，强化生产安全源头管理，确保我司春运</tspan><tspan x="763.8" dy="14.3">期间安全生产工作顺利进行。春运期间累计发</tspan><tspan x="763.8" dy="14.3">送班次22260班；安全运送旅客万人次;客运收</tspan><tspan x="763.8" dy="14.3">入达万元;春运期间未发生一起安全责任事故;</tspan><tspan x="763.8" dy="14.3">未接到一起重大服务质量投诉事件;未发生一</tspan><tspan x="763.8" dy="14.3">起媒体曝光事件，取得了经济效益与社会效益</tspan><tspan x="763.8" dy="14.3">的双丰收。现将20__年春运工作总结如下：</tspan></text></g>
<g id="s1" class="n"><rect x="557" y="709" width="179" height="25"/><text x="563.5" y="726">一、加强组织领导，精心部署安排</text></g>
<g id="s1c" class="n"><rect x="302.9" y="658.7" width="233.8" height="125"/><text x="309.4" y="675.7">按照公司"以客为主、安全第一、服务至上、<tspan x="309.4" dy="14.3">保障有力"的总体工作要求，公司及时传达落</tspan><tspan x="309.4" dy="14.3">实上级部门有关春运工作的要求，并召开春运</tspan><tspan x="309.4" dy="14.3">工作会议，成立了春运工作领导小组，制定了</tspan><tspan x="309.4" dy="14.3">《关于切实做好春运期间安全生产工作的通知</tspan><tspan x="309.4" dy="14.3">》，对春运期间的安全生产工作进行全面周密</tspan><tspan x="309.4" dy="14.3">的部署，并把春运工作任务分解化、具体化，</tspan><tspan x="309.4" dy="14.3">确保了春运安全生产工作顺利开展。</tspan></text></g>
<g id="s2" class="n"><rect x="557" y="858.4" width="179" height="25"/><text x="563.5" y="875.4">二、加大宣传力度，提高安全意识</text></g>
<g id="s2c" class="n"><rect x="302.9" y="808" width="233.8" height="126"/><text x="309.4" y="825">在春运期间，我司在前站台设立春运安全咨询<tspan x="309.4" dy="14.3">点，开展安全宣传教育活动，发放安全宣传册</tspan><tspan x="309.4" dy="14.3">近千册。同时利用广播、电子大屏幕、宣传横</tspan><tspan x="309.4" dy="14.3">幅、安全宣传挂图等多种宣传形式对全体员工</tspan><tspan x="309.4" dy="14.3">、司乘人员、旅客进行道路运输安全、行车安</tspan><tspan x="309.4" dy="14.3">全、遵纪守法等安全宣传教育，提高他们的安</tspan><tspan x="309.4" dy="14.3">全防范意识，确保各自的人身安全和合法权益</tspan><tspan x="309.4" dy="14.3">。</tspan></text></g>
<g id="s3" class="n"><rect x="557" y="1079.4" width="179" height="25"/><text x="563.5" y="1096.4">三、加强源头管理，落实安全责任</text></g>
<g id="s3a" class="n"><rect x="302.9" y="957" width="233.8" height="126.7"/><text x="309.4" y="974">按照文件要求，春运前按照"安全第一、预防<tspan x="309.4" dy="14.3">为主、综合治理"的方针，公司于1月7日组织</tspan><tspan x="309.4" dy="14.3">开展春运前安全大检查。主要以公司领导小组</tspan><tspan x="309.4" dy="14.3">集中检查和各处室自查自纠的方式，对各部门</tspan><tspan x="309.4" dy="14.3">责任区域内的重点部位进行了全面的安全检查</tspan><tspan x="309.4" dy="14.3">，特别是提升了"三品"检查等级，对发现的隐</tspan><tspan x="309.4" dy="14.3">患问题及时整改到位，防范各类安全事故的发</tspan><tspan x="309.4" dy="14.3">生，确保了我站春运期间安全形势稳定。</tspan></text></g>
<g id="s3b" class="n"><rect x="302.9" y="1107.7" width="233.8" height="111.2"/><text x="309.4" y="1124.7">为了进一步落实各项安全管理工作、监督检查<tspan x="309.4" dy="14.3">工作规范化、痕迹化管理，层层落实安全生产</tspan><tspan x="309.4" dy="14.3">责任，充分利用班前会、班后会，强化员工的</tspan><tspan x="309.4" dy="14.3">安全意识，将春运期间的安全生产保障措施落</tspan><tspan x="309.4" dy="14.3">实到每一个岗位、每一个人。时刻把安全挂在</tspan><tspan x="309.4" dy="14.3">心上，落实在行动上，切实为春运提供有力的</tspan><tspan x="309.4" dy="14.3">安全保障。</tspan></text></g>
<g id="s4" class="n"><rect x="557" y="1365.3" width="179" height="25"/><text x="563.5" y="1382.3">四、采取得力措施，确保运输安全</text></g>
<g id="s4a" class="n"><rect x="302.9" y="1243" width="233.8" height="111"/><text x="309.4" y="1260">(一)"三品"检查关。严格落实"三不进站、七不<tspan x="309.4" dy="14.3">出站"制度，强化"三品"检查工作，对进站旅</tspan><tspan x="309.4" dy="14.3">客的行包充分利用安检仪进行逐一检查，必要</tspan><tspan x="309.4" dy="14.3">时进行开包检查，做到不错检、不漏检;对进</tspan><tspan x="309.4" dy="14.3">站非营运车辆充分利用手持安检仪进行检查，</tspan><tspan x="309.4" dy="14.3">做到逢包必检。春运期间共检查旅客行包万件</tspan><tspan x="309.4" dy="14.3">，</tspan></text></g>
<g id="s4aa" class="n"><rect x="47" y="1243" width="234.6" height="111"/><text x="53.5" y="1260">收缴各类危险品1276件。同时小件快运收存<tspan x="53.5" dy="14.3">物品时，做好安全检查，并按规定详实登记，</tspan><tspan x="53.5" dy="14.3">对不宜寄存物品，耐心向旅客作解释，严防旅</tspan><tspan x="53.5" dy="14.3">客寄存的小件物品内夹带危险品，杜绝"三品"</tspan><tspan x="53.5" dy="14.3">进站上车，保障营运车辆行车安全，春运期间</tspan><tspan x="53.5" dy="14.3">共安全托运行包18467件，小件寄存3096件</tspan><tspan x="53.5" dy="14.3">。</tspan></text></g>
<g id="s4b" class="n"><rect x="302.9" y="1379" width="233.8" height="153.5"/><text x="309.4" y="1396">(二)车辆例检关。严格按例检八大项目和要求<tspan x="309.4" dy="14.3">逐项例检、重点是车辆制动、轮胎等，不得缺</tspan><tspan x="309.4" dy="14.3">项漏检。春运期间安全检查站共例检车辆143</tspan><tspan x="309.4" dy="14.3">0台次，其中不合格2台。督促车辆做到及时维</tspan><tspan x="309.4" dy="14.3">修，复检合格后填写合格例检单。同时配合</tspan><tspan x="309.4" dy="14.3">公安交警大队对参营车辆逐一安全例检，针对</tspan><tspan x="309.4" dy="14.3">冬季气候干燥、道路情况复杂的特点，严格车</tspan><tspan x="309.4" dy="14.3">辆防滑、防冻、防火安全设备的查验，督促车</tspan><tspan x="309.4" dy="14.3">主及时维修到位，对安全存在隐患的车辆，坚</tspan><tspan x="309.4" dy="14.3">决不允许投入营运。</tspan></text></g>

<g id="u1" class="n"><rect x="860" y="1622" width="131" height="25"/><text x="866.5" y="1639">(一)我们身边的溺水事故</text></g>
<g id="u1c" class="n"><rect x="605.6" y="1556" width="235" height="155.5"/><text x="612.1" y="1573">暑假是广大师生集体外出旅游、夏令营、游乐<tspan x="612.1" dy="14.3">、疗养活动的高峰期，也是中小学生意外事故</tspan><tspan x="612.1" dy="14.3">，尤其是溺水、交通事故的高发期。据了解，</tspan><tspan x="612.1" dy="14.3">去年暑假，我省、我市发生了多起学生溺水事</tspan><tspan x="612.1" dy="14.3">故。据某市120急救指挥中心统计，该中心去</tspan><tspan x="612.1" dy="14.3">年4月1日至6月9日，共接到溺水求救电话15</tspan><tspan x="612.1" dy="14.3">个，平均每4天半就有一宗溺水事故发生，其</tspan><tspan x="612.1" dy="14.3">中急救车到现场后，患者已死亡的达10人，</tspan><tspan x="612.1" dy="14.3">占67%。事故现场多为农村水塘，溺水者多</tspan><tspan x="612.1" dy="14.3">为初中、小学学生。</tspan></text></g>
<g id="u2" class="n"><rect x="894" y="1742.5" width="97" height="25"/><text x="900.5" y="1759.5">(二)溺水致死原因</text></g>
<g id="u2c" class="n"><rect x="639" y="1735.5" width="235" height="40"/><text x="645.5" y="1752.5">主要是气管内吸入大量分阻碍呼吸，或因喉头<tspan x="645.5" dy="14.3">强烈痉挛，引起呼吸道关闭、窒息死亡。</tspan></text></g>
<g id="u3" class="n"><rect x="938" y="1814" width="53" height="25"/><text x="944.5" y="1831">(三)症状</text></g>
<g id="u3c" class="n"><rect x="683.4" y="1798.6" width="235" height="54"/><text x="689.9" y="1815.6">溺水者面部青紫、肿胀、双眼充血，口腔、鼻<tspan x="689.9" dy="14.3">孔和气管充满血性泡沫。肢体冰冷，脉细弱，</tspan><tspan x="689.9" dy="14.3">甚至抽搐或呼吸心跳停止。</tspan></text></g>
<g id="u4" class="n"><rect x="904.7" y="2070" width="86.3" height="25"/><text x="911.2" y="2087">(四)自救与救护</text></g>
<g id="u4a" class="n"><rect x="650.5" y="1876.7" width="234.2" height="111.3"/><text x="657" y="1893.7">当发生溺水时，不熟悉水性时可采取自救法：<tspan x="657" dy="14.3">除呼救外，取仰卧位，头部向后，使鼻部可露</tspan><tspan x="657" dy="14.3">出水面呼吸。呼气要浅，吸气要深。因为深吸</tspan><tspan x="657" dy="14.3">气时，人体比重降到，比水略轻，可浮出水面</tspan><tspan x="657" dy="14.3">(呼气时人体比重为，比水略重)，此时千万不</tspan><tspan x="657" dy="14.3">要慌张，不要将手臂上举乱扑动，而使身体下</tspan><tspan x="657" dy="14.3">沉更快。</tspan></text></g>
<g id="u4b" class="n"><rect x="650.5" y="2012" width="234.2" height="54.7"/><text x="657" y="2029">会游泳者，如果发生小腿抽筋，要保持镇静，<tspan x="657" dy="14.3">采取仰泳位，用手将抽筋的腿的脚趾向背侧弯</tspan><tspan x="657" dy="14.3">曲，可使痉挛松解，然后慢慢游向岸边。</tspan></text></g>
<g id="u4c" class="n"><rect x="650.5" y="2089.6" width="234.2" height="54.4"/><text x="657" y="2106.6">救护溺水者，应迅速游到溺水者附近，观察清<tspan x="657" dy="14.3">楚位置，从其后方出手救援。或投入木板、救</tspan><tspan x="657" dy="14.3">生圈、长杆等，让落水者攀扶上岸。</tspan></text></g>
<g id="u4d" class="n"><rect x="795" y="2218.5" width="90" height="25"/><text x="801.5" y="2235.5">出水后的救护：</text></g>
<g id="u4dc" class="n"><rect x="540" y="2168" width="235" height="125.5"/><text x="546.5" y="2185">首先清理溺水者口鼻内污泥、痰涕，取下假牙<tspan x="546.5" dy="14.3">，然后进行控水处理。救护人员单腿屈膝，将</tspan><tspan x="546.5" dy="14.3">溺水者俯卧于救护者的大腿上，借体位使溺水</tspan><tspan x="546.5" dy="14.3">者体内水由气管口腔中排出。有些农村将溺水</tspan><tspan x="546.5" dy="14.3">的人横入在牛背上，头脚下悬，赶牛行走，</tspan><tspan x="546.5" dy="14.3">这样可控水、又起到人工呼吸作用。如果溺水</tspan><tspan x="546.5" dy="14.3">者呼吸心跳已停止，立即进行口对口人工呼吸</tspan><tspan x="546.5" dy="14.3">，同时进行胸外心脏按摩。</tspan></text></g>
<g id="u5" class="n"><rect x="904.7" y="2546" width="86.3" height="25"/><text x="911.2" y="2563">(五)如何防溺水</text></g>
<g id="u5a" class="n"><rect x="650.5" y="2317.5" width="234.2" height="69"/><text x="657" y="2334.5">游泳，是广大青少年喜爱的体育锻炼项目之一<tspan x="657" dy="14.3">。然而，不做好准备、缺少安全防范意识，遇</tspan><tspan x="657" dy="14.3">到意外时慌张、不能沉着自救，极易发生溺水</tspan><tspan x="657" dy="14.3">伤亡事故。</tspan></text></g>
<g id="u5b" class="n"><rect x="650.5" y="2745" width="234.2" height="40"/><text x="657" y="2762">为了确保游泳安全，防止溺水事故的发生，必<tspan x="657" dy="14.3">须做到以下几点：</tspan></text></g>
<g id="w1" class="n"><rect x="394" y="2411" width="235" height="97"/><text x="400.5" y="2428">1、不要独自一人外出游泳，更不要到不摸底<tspan x="400.5" dy="14.3">和不知水情或比较危险且宜发生溺水伤亡事故</tspan><tspan x="400.5" dy="14.3">的地方去游泳。选择好的游泳场所，对场所的</tspan><tspan x="400.5" dy="14.3">环境，如该水域的水情是否清楚、水下是否平</tspan><tspan x="400.5" dy="14.3">坦、有无暗礁、暗流、杂草，水域的深浅等</tspan><tspan x="400.5" dy="14.3">情况要了解清楚。</tspan></text></g>
<g id="w2" class="n"><rect x="394" y="2532" width="235" height="69"/><text x="400.5" y="2549">2、必须要有组织并在老师或熟悉水性的人的<tspan x="400.5" dy="14.3">带领下去游泳，以便互相照顾。如果集体组织</tspan><tspan x="400.5" dy="14.3">外出游泳，下水前后都要清点人数，并指定救</tspan><tspan x="400.5" dy="14.3">生员做安全保护。</tspan></text></g>
<g id="w3" class="n"><rect x="394" y="2624" width="235" height="97"/><text x="400.5" y="2641">3、要清楚自己的身体健康状况，平时四肢就<tspan x="400.5" dy="14.3">容易抽筋者不宜参加游泳或不要到深水区游泳</tspan><tspan x="400.5" dy="14.3">。要做好下水前的准备，先活动活动身体，如</tspan><tspan x="400.5" dy="14.3">水温太低应先在浅水处用水淋洗身体，待适应</tspan><tspan x="400.5" dy="14.3">水温后再下水游泳;镶有假牙的同学，应将假</tspan><tspan x="400.5" dy="14.3">牙取下，以防呛水时假牙落入食管或气管。</tspan></text></g>
<g id="w4" class="n"><rect x="394" y="2745" width="235" height="69"/><text x="400.5" y="2762">4、对自己的水性要有自知之明，下水后不能<tspan x="400.5" dy="14.3">逞能，不要贸然跳水和潜泳，更不能互相打闹</tspan><tspan x="400.5" dy="14.3">，以免喝水和溺水。不要在急流和漩涡处游泳</tspan><tspan x="400.5" dy="14.3">，更不要酒后游泳。</tspan></text></g>
<g id="w5" class="n"><rect x="394" y="2837" width="235" height="54.4"/><text x="400.5" y="2854">5、在游泳中如果突然觉得身体不舒服，如眩<tspan x="400.5" dy="14.3">晕、恶心、心慌、气短等，要立即上岸休息或</tspan><tspan x="400.5" dy="14.3">呼救。</tspan></text></g>
<g id="w6" class="n"><rect x="394" y="2915" width="235" height="54.4"/><text x="400.5" y="2932">6、在游泳中，若小腿或脚部抽筋，千万不要<tspan x="400.5" dy="14.3">惊慌，可用力蹬腿或做跳跃动作，或用力按摩</tspan><tspan x="400.5" dy="14.3">、拉扯抽筋部位，同时呼叫同伴救助。</tspan></text></g>
<g id="w7" class="n"><rect x="394" y="2993" width="235" height="155"/><text x="400.5" y="3010">7、发现溺水者，应立即呼救，溺水急救刻不<tspan x="400.5" dy="14.3">容缓。溺水者心跳呼吸停止时，救上岸后</tspan><tspan x="400.5" dy="14.3">应立即清除其口腔、鼻腔中的水草和泥沙等</tspan><tspan x="400.5" dy="14.3">异物，并将舌头拉出，保持呼吸通畅，以免</tspan><tspan x="400.5" dy="14.3">窒息。然后进行控水，将其腹部放高，使胸</tspan><tspan x="400.5" dy="14.3">腔和胃中的水倒出，或将其腹部置于急救者肩</tspan><tspan x="400.5" dy="14.3">上，快步奔跑，使积水倒出。溺水者呼</tspan><tspan x="400.5" dy="14.3">吸停止时，应立即进行口对口人工呼吸，</tspan><tspan x="400.5" dy="14.3">可采用口对口或口对鼻的方式，在急</tspan><tspan x="400.5" dy="14.3">救的同时迅速拨打120求救。</tspan></text></g>
<g id="u6" class="n"><rect x="849" y="3244" width="142" height="25"/><text x="855.5" y="3261">(六)遭遇溺水你该如何自救</text></g>
<g id="u6a" class="n"><rect x="595" y="3172" width="233.7" height="54.4"/><text x="601.5" y="3189">暑假期间，许多同学都喜欢结伴出游，特别是<tspan x="601.5" dy="14.3">因为天热，大家都愿意到水边玩耍、游泳，往</tspan><tspan x="601.5" dy="14.3">往这时，就很容易发生危险的情况。</tspan></text></g>
<g id="u6b" class="n"><rect x="595" y="3249.4" width="233.7" height="126"/><text x="601.5" y="3266.4">当发现有人落水时，救助者不要贸然去救人，<tspan x="601.5" dy="14.3">因为一旦被落水者抓住将十分危险。在水中与</tspan><tspan x="601.5" dy="14.3">落水者纠缠不但会消耗救助者的大量体力，有</tspan><tspan x="601.5" dy="14.3">时甚至会导致救助者体力耗尽最终丧命。如果</tspan><tspan x="601.5" dy="14.3">当时情况十分紧急，而救助者又具备一定的救</tspan><tspan x="601.5" dy="14.3">护能力，可以选择从落水者背后接近，用一只</tspan><tspan x="601.5" dy="14.3">手从背后抱住落水者的头颈，另一只手抓住落</tspan><tspan x="601.5" dy="14.3">水者的手臂游向岸边。</tspan></text></g>

<g id="v0" class="n"><rect x="756" y="3400" width="235" height="140"/><text x="762.5" y="3417">20__年，我镇高度重视道路交通安全管理工<tspan x="762.5" dy="14.3">作，切实按照上级道路交通管理工作要求、安</tspan><tspan x="762.5" dy="14.3">排部署，并结合我镇工作实际，扎实有效地开</tspan><tspan x="762.5" dy="14.3">展了道路交通管理工作，确保了我镇全年未发</tspan><tspan x="762.5" dy="14.3">生一起重大道路交通安全事故;未发生一起交</tspan><tspan x="762.5" dy="14.3">通拥堵事件，有效的保障了"___"重点项目建</tspan><tspan x="762.5" dy="14.3">设工程顺利实施;维护了群众生命财产安全。</tspan><tspan x="762.5" dy="14.3">为全镇的经济发展、社会稳定奠定了坚实基础</tspan><tspan x="762.5" dy="14.3">。现将具体工作开展情况，总结汇报如下：</tspan></text></g>
<g id="v1" class="n"><rect x="890" y="3564" width="101" height="25"/><text x="896.5" y="3581">工作主要开展情况</text></g>
<g id="v2" class="n"><rect x="823" y="3663.5" width="168" height="25"/><text x="829.5" y="3680.5">一、高度重视、周密安排部署。</text></g>
<g id="v2c" class="n"><rect x="568" y="3612" width="234" height="126.5"/><text x="574.5" y="3629">政府高度重视道路交通管理工作，1月，政府<tspan x="574.5" dy="14.3">印发了《关于调整道路交通安全领导小组的通</tspan><tspan x="574.5" dy="14.3">知》，重新调整了镇道安办工作人员，就道路</tspan><tspan x="574.5" dy="14.3">交通管理工作作出了具体安排部署，制定了道</tspan><tspan x="574.5" dy="14.3">安办工作制度，明确了主要领导参与道路交通</tspan><tspan x="574.5" dy="14.3">执法检查工作、分管领导带队上路执法检查、</tspan><tspan x="574.5" dy="14.3">道路管护、道路安全隐患排查整治、道安办定</tspan><tspan x="574.5" dy="14.3">期汇报等工作制度。</tspan></text></g>
<g id="v3" class="n"><rect x="823" y="3820" width="168" height="25"/><text x="829.5" y="3837">二、落实责任、明确工作职责。</text></g>
<g id="v3c" class="n"><rect x="568" y="3763" width="234" height="140"/><text x="574.5" y="3780">20__年2月，政府与各村(社区)签订了道路交<tspan x="574.5" dy="14.3">通安全责任书与面包车、客车、货车等重点车</tspan><tspan x="574.5" dy="14.3">辆车主签订了安全责任书和承诺书，与各村劝</tspan><tspan x="574.5" dy="14.3">导员签订了安全责任书，进一步明确了各村及</tspan><tspan x="574.5" dy="14.3">各村劝导员的工作职责、任务、考核等详细内</tspan><tspan x="574.5" dy="14.3">容，在8月、12月召开了驾驶员、劝导员、村</tspan><tspan x="574.5" dy="14.3">主任培训会，并要求各村与本村企业、车辆、</tspan><tspan x="574.5" dy="14.3">建设工地等签订了安全责任书，劝导员、村主</tspan><tspan x="574.5" dy="14.3">任加强对本村重点车辆、人员的管控力度。</tspan></text></g>
<g id="v4" class="n"><rect x="756" y="4281" width="235" height="25"/><text x="762.5" y="4298">三、细化举措、加强农村道路交通管理工作。</text></g>
<g id="x1" class="n"><rect x="527" y="4037" width="209" height="25"/><text x="533.5" y="4054">(一)加强了道路交通安全执法检查力度。</text></g>
<g id="x1a" class="n"><rect x="273" y="3926" width="233" height="97.3"/><text x="279.5" y="3943">一是重点加强了道路违法行为的整治。20__<tspan x="279.5" dy="14.3">年，道安办联合交警、交管站上路执法检查4</tspan><tspan x="279.5" dy="14.3">0余次，其中主要领导带队上路执法检查6次</tspan><tspan x="279.5" dy="14.3">，累计检查车辆20__余台次，劝导群众3000</tspan><tspan x="279.5" dy="14.3">余人，查获酒驾1起、无证驾驶2起、货车不</tspan><tspan x="279.5" dy="14.3">加盖篷布120余起等各类违法行为。</tspan></text></g>
<g id="x1b" class="n"><rect x="273" y="4047" width="233" height="154.5"/><text x="279.5" y="4064">二是安全执法检查突出重点。道安办除了坚持<tspan x="279.5" dy="14.3">每周不定期联合执法部门上路执法检查外，一</tspan><tspan x="279.5" dy="14.3">是突出了节假日、汛期、雨季、学生上下学等</tspan><tspan x="279.5" dy="14.3">重点时段的交通安全执法检查;二是突出了客</tspan><tspan x="279.5" dy="14.3">车、货车、摩托车、农村面包车等重点车辆的</tspan><tspan x="279.5" dy="14.3">管控力度;三是突出了1121施工建设等重点工</tspan><tspan x="279.5" dy="14.3">地道路秩序管理;四是突出了超员、超速、超</tspan><tspan x="279.5" dy="14.3">载、酒驾、不戴头盔、无牌无证、三轮车载人</tspan><tspan x="279.5" dy="14.3">、农用车载人、货车不加盖篷布等严重违法行</tspan><tspan x="279.5" dy="14.3">为处理力度。</tspan></text></g>
<g id="x2" class="n"><rect x="504.5" y="4324" width="231.5" height="25"/><text x="511" y="4341">(三)加强了农村道路安全隐患排查整治工作。</text></g>
<g id="x2a" class="n"><rect x="251" y="4227" width="234" height="111.6"/><text x="257.5" y="4244">一是大力开展了农村道路排查整治工作。20_<tspan x="257.5" dy="14.3">_年，道安办对全镇道路巡查12次，村组道巡</tspan><tspan x="257.5" dy="14.3">查8次，并详细记录了巡查情况，组织各村开</tspan><tspan x="257.5" dy="14.3">展道路安全隐患排查整治8次，截止目前，全</tspan><tspan x="257.5" dy="14.3">镇累计排查隐患52处，均已整改到位。全镇</tspan><tspan x="257.5" dy="14.3">今年新增设安全警示牌19个，反光镜7个，道</tspan><tspan x="257.5" dy="14.3">路指示牌9个。</tspan></text></g>
<g id="x2b" class="n"><rect x="251" y="4361" width="234" height="54.4"/><text x="257.5" y="4378">二是积极协调相关部门整治安全隐患。20__<tspan x="257.5" dy="14.3">年，道安办协调同交警队、交管站等为我镇客</tspan><tspan x="257.5" dy="14.3">车(校车)改道开展了实地调研工作。</tspan></text></g>
<g id="x3" class="n"><rect x="545.5" y="4525" width="190.5" height="25"/><text x="552" y="4542">(三)加强了农村交通"3本台账"建设。</text></g>
<g id="x3a" class="n"><rect x="290" y="4440" width="234" height="83"/><text x="296.5" y="4457">一是进一步完善了机动车驾驶员登记台账、车<tspan x="296.5" dy="14.3">辆管理台账、道路安全隐患排查整治台账。2</tspan><tspan x="296.5" dy="14.3">0__年，道安办组织开展了驾驶员、车辆摸底</tspan><tspan x="296.5" dy="14.3">排查3次，新增数据30余条，删除12条，更新</tspan><tspan x="296.5" dy="14.3">安全隐患排查整治情况52条。</tspan></text></g>
<g id="x3b" class="n"><rect x="290" y="4546" width="234" height="97.3"/><text x="296.5" y="4563">二是督促、指导各村建立了"3本台账"。按照<tspan x="296.5" dy="14.3">上级主管部门政府安排，道安办组织各村(社</tspan><tspan x="296.5" dy="14.3">区)建立并完善了各村驾驶员、车辆、安全隐</tspan><tspan x="296.5" dy="14.3">患排查整治台账，设立了由村主任负总责，劝</tspan><tspan x="296.5" dy="14.3">导员具体进行数据统计、通过农交安APP进行</tspan><tspan x="296.5" dy="14.3">信息平台的录入。</tspan></text></g>
<g id="v5" class="n"><rect x="801" y="4864" width="190" height="25"/><text x="807.5" y="4881">四、加强安全宣传、增强安全意识。</text></g>
<g id="y1" class="n"><rect x="547" y="4667.5" width="234" height="125.9"/><text x="553.5" y="4684.5">(一)宣传方式多样化。一是我镇树立道路交通<tspan x="553.5" dy="14.3">安全宣传警示牌8个，宣传横幅20余幅，向车</tspan><tspan x="553.5" dy="14.3">主、群众发放宣传单16000余份;二是开会必</tspan><tspan x="553.5" dy="14.3">讲安全、检查必讲安全，人人讲安全、事事讲</tspan><tspan x="553.5" dy="14.3">安全，把农村道路交通安全始终放在安全工作</tspan><tspan x="553.5" dy="14.3">的首位;三是交通安全进学校，让娃娃回去教</tspan><tspan x="553.5" dy="14.3">育大人;四是交通安全进村组让邻居来教育身</tspan><tspan x="553.5" dy="14.3">边人。</tspan></text></g>
<g id="y2" class="n"><rect x="547" y="4974" width="234" height="97.3"/><text x="553.5" y="4991">(二)宣传内容更丰富。一是宣传道路交通安全<tspan x="553.5" dy="14.3">法律法规、安全文明行车常识，让驾驶员"懂</tspan><tspan x="553.5" dy="14.3">规矩";二是道路交通安全执法检查，查扣处罚</tspan><tspan x="553.5" dy="14.3">一批屡教不改的"顽固派";三是以身边发生的</tspan><tspan x="553.5" dy="14.3">真实交通事故案例来警示干部群众;四是制作</tspan><tspan x="553.5" dy="14.3">了宣传广播，通过村村响轮番播放。</tspan></text></g>
<g id="z1" class="n"><rect x="370" y="4817.5" width="155" height="25"/><text x="376.5" y="4834.5">存在的问题及下一步工作打算</text></g>
<g id="z2" class="n"><rect x="432" y="4867" width="93" height="25"/><text x="438.5" y="4884">主要存在的问题：</text></g>
<g id="z3" class="n"><rect x="292" y="4916" width="233" height="154.5"/><text x="298.5" y="4933">一是仍有少数群众对道路交通安全工作认识不<tspan x="298.5" dy="14.3">到位，对交通执法工作不理解，觉得危险离自</tspan><tspan x="298.5" dy="14.3">己很远、觉得危险不可能发生在自己身上、觉</tspan><tspan x="298.5" dy="14.3">得执法检查是在故意为难，存在大意、侥幸心</tspan><tspan x="298.5" dy="14.3">理;二是道路交通安全管理工作机制有待进一</tspan><tspan x="298.5" dy="14.3">步完善。与各职能部门之间的协同作战的工作</tspan><tspan x="298.5" dy="14.3">机制、工作责任分工有待进一步提高和完善;</tspan><tspan x="298.5" dy="14.3">三是道路交通安全管理工作思维和方式有待进</tspan><tspan x="298.5" dy="14.3">一步创新，以适应新形势下农村道路交通管理</tspan><tspan x="298.5" dy="14.3">工作新问题、高要求。</tspan></text></g>
<g id="z4" class="n"><rect x="434" y="5095" width="91" height="25"/><text x="440.5" y="5112">下一步工作打算：</text></g>
<g id="z5" class="n"><rect x="292" y="5144" width="233" height="140"/><text x="298.5" y="5161">一是进一步创新道路交通安全的宣传方式，增<tspan x="298.5" dy="14.3">强宣传教育力度，提高全镇干部群众交通安全</tspan><tspan x="298.5" dy="14.3">意识;二是进一步加强节假日、雨季、汛期、</tspan><tspan x="298.5" dy="14.3">学生上下学、重要活动等重点时段道路交通安</tspan><tspan x="298.5" dy="14.3">全执法检查力度;三是进一步搞好"顽瘴痼疾专</tspan><tspan x="298.5" dy="14.3">项整治"、摩托车头盔专项整治、面包车专项</tspan><tspan x="298.5" dy="14.3">整治、客货车专项整治、等各项违法整治;四</tspan><tspan x="298.5" dy="14.3">是进一步发挥好镇村干部的道路交通安全监督</tspan><tspan x="298.5" dy="14.3">和示范作用。</tspan></text></g>
</g>
</svg>
